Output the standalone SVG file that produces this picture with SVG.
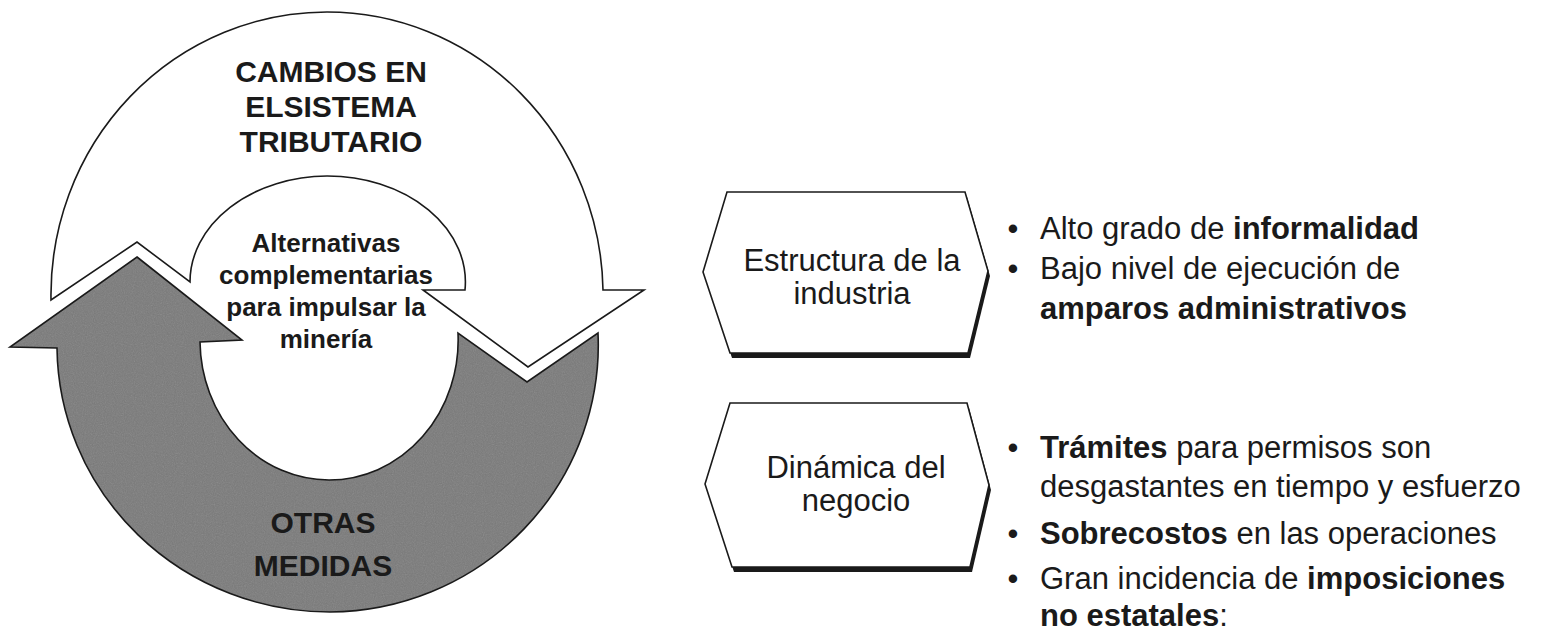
<svg xmlns="http://www.w3.org/2000/svg" width="1548" height="636" viewBox="0 0 1548 636">
  <style>
    .arrow { stroke: #1a1a1a; stroke-width: 1.6; stroke-linejoin: miter; }
    .white { fill: #ffffff; }
    .gray { fill: #7a7a7a; }
    .big { font-family: "Liberation Sans", Arial, sans-serif; font-weight: bold; font-size: 30px; fill: #1a1a1a; text-anchor: middle; }
    .mid { font-family: "Liberation Sans", Arial, sans-serif; font-weight: bold; font-size: 26px; fill: #1a1a1a; text-anchor: middle; }
    .hex { fill: #ffffff; stroke: #1a1a1a; stroke-width: 1.6; }
    .hexshadow { fill: #1a1a1a; }
    .nodetext { font-family: "Liberation Sans", Arial, sans-serif; font-size: 31px; fill: #1a1a1a; text-anchor: middle; }
    .bullet { font-family: "Liberation Sans", Arial, sans-serif; font-size: 31px; fill: #1a1a1a; }
    .b { font-weight: bold; }
  </style>
  <defs>
    <filter id="grain" x="0" y="0" width="100%" height="100%">
      <feTurbulence type="fractalNoise" baseFrequency="0.9" numOctaves="2" seed="7"/>
      <feColorMatrix type="saturate" values="0"/>
    </filter>
    <clipPath id="grayClip">
      <path d="M 137,257 L 242,340 L 200,342 A 129 140 0 0 0 329,480 A 129 140 0 0 0 458,333 L 527,382 L 598,333 A 270 267 0 0 1 330,612 A 273 267 0 0 1 57,348 L 10,347 Z"/>
    </clipPath>
  </defs>
  <rect x="0" y="0" width="1548" height="636" fill="#ffffff"/>

  <g id="cycle-white-arrow">
    <path class="arrow white" d="M 51,300 A 276 283 0 0 1 327,12 A 276 283 0 0 1 603,290 L 644,290 L 528,367 L 423,290 L 465,290 A 138 106 0 0 0 327,176 A 138 106 0 0 0 190,282 L 137,242 Z"/>
    <text class="big" x="331" y="82">CAMBIOS EN</text>
    <text class="big" x="331" y="117">ELSISTEMA</text>
    <text class="big" x="331" y="152">TRIBUTARIO</text>
  </g>

  <g id="cycle-gray-arrow">
    <path class="gray" d="M 137,257 L 242,340 L 200,342 A 129 140 0 0 0 329,480 A 129 140 0 0 0 458,333 L 527,382 L 598,333 A 270 267 0 0 1 330,612 A 273 267 0 0 1 57,348 L 10,347 Z"/>
    <rect x="0" y="250" width="660" height="370" filter="url(#grain)" clip-path="url(#grayClip)" opacity="0.22"/>
    <path class="arrow" fill="none" d="M 137,257 L 242,340 L 200,342 A 129 140 0 0 0 329,480 A 129 140 0 0 0 458,333 L 527,382 L 598,333 A 270 267 0 0 1 330,612 A 273 267 0 0 1 57,348 L 10,347 Z"/>
    <text class="big" x="323" y="533">OTRAS</text>
    <text class="big" x="323" y="576">MEDIDAS</text>
  </g>

  <g id="center-label">
    <text class="mid" x="326" y="252">Alternativas</text>
    <text class="mid" x="326" y="284">complementarias</text>
    <text class="mid" x="326" y="316">para impulsar la</text>
    <text class="mid" x="326" y="348">minería</text>
  </g>

  <g id="node-estructura">
    <polygon class="hexshadow" points="729,197 967,197 990,276 970,358 732,358 705,277"/>
    <polygon class="hex" points="727,192 965,192 988,271 968,353 730,353 703,272"/>
    <text class="nodetext" x="852" y="271">Estructura de la</text>
    <text class="nodetext" x="852" y="304">industria</text>
  </g>

  <g id="node-dinamica">
    <polygon class="hexshadow" points="732,408 969,408 991,490 972,572 734,572 707,489"/>
    <polygon class="hex" points="730,403 967,403 989,485 970,567 732,567 705,484"/>
    <text class="nodetext" x="856" y="478">Dinámica del</text>
    <text class="nodetext" x="856" y="511">negocio</text>
  </g>

  <g id="list-estructura">
    <text class="bullet" x="1013" y="239" text-anchor="middle">•</text>
    <text class="bullet" x="1040" y="239">Alto grado de <tspan class="b">informalidad</tspan></text>
    <text class="bullet" x="1013" y="279" text-anchor="middle">•</text>
    <text class="bullet" x="1040" y="279">Bajo nivel de ejecución de</text>
    <text class="bullet b" x="1040" y="319">amparos administrativos</text>
  </g>

  <g id="list-dinamica">
    <text class="bullet" x="1013" y="458" text-anchor="middle">•</text>
    <text class="bullet" x="1040" y="458"><tspan class="b">Trámites</tspan> para permisos son</text>
    <text class="bullet" x="1040" y="497">desgastantes en tiempo y esfuerzo</text>
    <text class="bullet" x="1013" y="544" text-anchor="middle">•</text>
    <text class="bullet" x="1040" y="544"><tspan class="b">Sobrecostos</tspan> en las operaciones</text>
    <text class="bullet" x="1013" y="589" text-anchor="middle">•</text>
    <text class="bullet" x="1040" y="589">Gran incidencia de  <tspan class="b">imposiciones</tspan></text>
    <text class="bullet" x="1040" y="626"><tspan class="b">no estatales</tspan>:</text>
  </g>

  <g id="connectors"></g>
</svg>
